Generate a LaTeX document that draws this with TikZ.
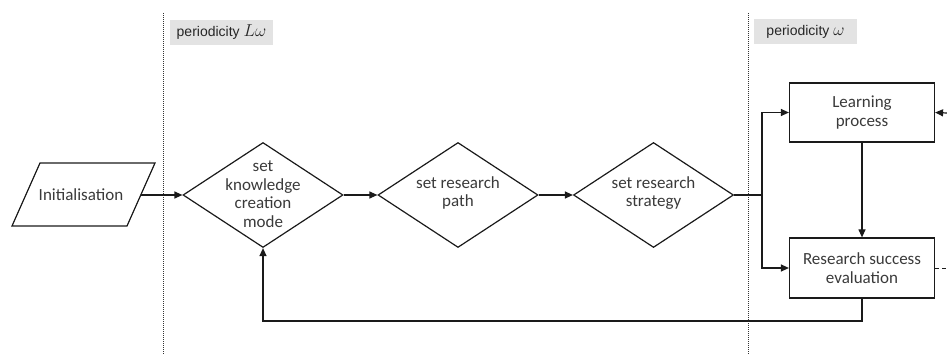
\documentclass[tikz,border=0pt]{standalone}
\usepackage{fontspec}
\setmainfont{Carlito}
\newfontfamily\labelfont{Liberation Sans}
\usetikzlibrary{shapes.geometric,arrows.meta}
\definecolor{txt}{HTML}{3A3A3A}
\definecolor{ln}{HTML}{1A1A1A}
\definecolor{tagbg}{HTML}{E3E3E3}
\newcommand{\bigmath}[1]{{\fontsize{16.5}{18}\selectfont$#1$}}
\tikzset{
  boxtext/.style={text=txt, font=\fontsize{17}{18.5}\selectfont, align=center, inner sep=0},
  dia/.style={diamond, draw=ln, line width=1.2pt, inner sep=0, minimum width=160, minimum height=105},
  procbox/.style={draw=ln, line width=1.2pt, minimum width=145, minimum height=59, boxtext},
  arr/.style={draw=ln, line width=1.2pt, -{Triangle[length=8pt,width=7pt]}},
  plainln/.style={draw=ln, line width=1.2pt},
  divider/.style={draw=black!80, line width=1pt, dash pattern=on 1pt off 1pt},
  tag/.style={fill=tagbg, minimum width=103, minimum height=25, inner sep=0, font=\labelfont\fontsize{14}{16}\selectfont, text=black!85}
}
\begin{document}
\begin{tikzpicture}[x=1pt,y=-1pt]
\useasboundingbox (0,0) rectangle (947,355);
% dividers
\coordinate (v1t) at (163,13);
\coordinate (v1b) at (163,355);
\coordinate (v2t) at (748,13);
\coordinate (v2b) at (748,355);
\draw[divider] (v1t) -- (v1b);
\draw[divider] (v2t) -- (v2b);
% tags
\node[tag] (tag1) at (221.5,32.5) {periodicity \bigmath{L\omega}};
\node[tag] (tag2) at (805.5,32) {periodicity \bigmath{\omega}};
% initialisation parallelogram
\draw[plainln] (40,163) -- (155,163) -- (127,226) -- (12,226) -- cycle;
\node[boxtext] (init) at (81,195) {Initialisation};
\coordinate (initE) at (141,195);
% diamonds
\node[dia] (d1) at (263,195) {};
\node[boxtext] (t1) at (263,194) {set\\knowledge\\creation\\mode};
\node[dia] (d2) at (458,195) {};
\node[boxtext] (t2) at (458,193) {set research\\path};
\node[dia] (d3) at (653.5,195) {};
\node[boxtext] (t3) at (653.5,193) {set research\\strategy};
% boxes
\node[procbox] (learn) at (862,112.5) {Learning\\process};
\node[procbox, minimum height=60] (res) at (862,268) {Research success\\evaluation};
% connectors
\draw[arr] (initE) -- (d1.west);
\draw[arr] (d1.east) -- (d2.west);
\draw[arr] (d2.east) -- (d3.west);
\coordinate (br) at (762,195);
\draw[plainln] (d3.east) -- (br);
\draw[arr] (br) |- (learn.west);
\draw[arr] (br) |- (res.west);
\draw[arr] (learn.south) -- (res.north);
\coordinate (fb) at (0,321);
\draw[arr] (res.south) -- (res.south |- fb) -| (d1.south);
\coordinate (rin) at (947,113);
\draw[arr] (rin) -- (learn.east);
\coordinate (rout) at (947,268);
\draw[plainln, line width=1pt, dash pattern=on 4pt off 3pt] (res.east) -- (rout);
\end{tikzpicture}
\end{document}
